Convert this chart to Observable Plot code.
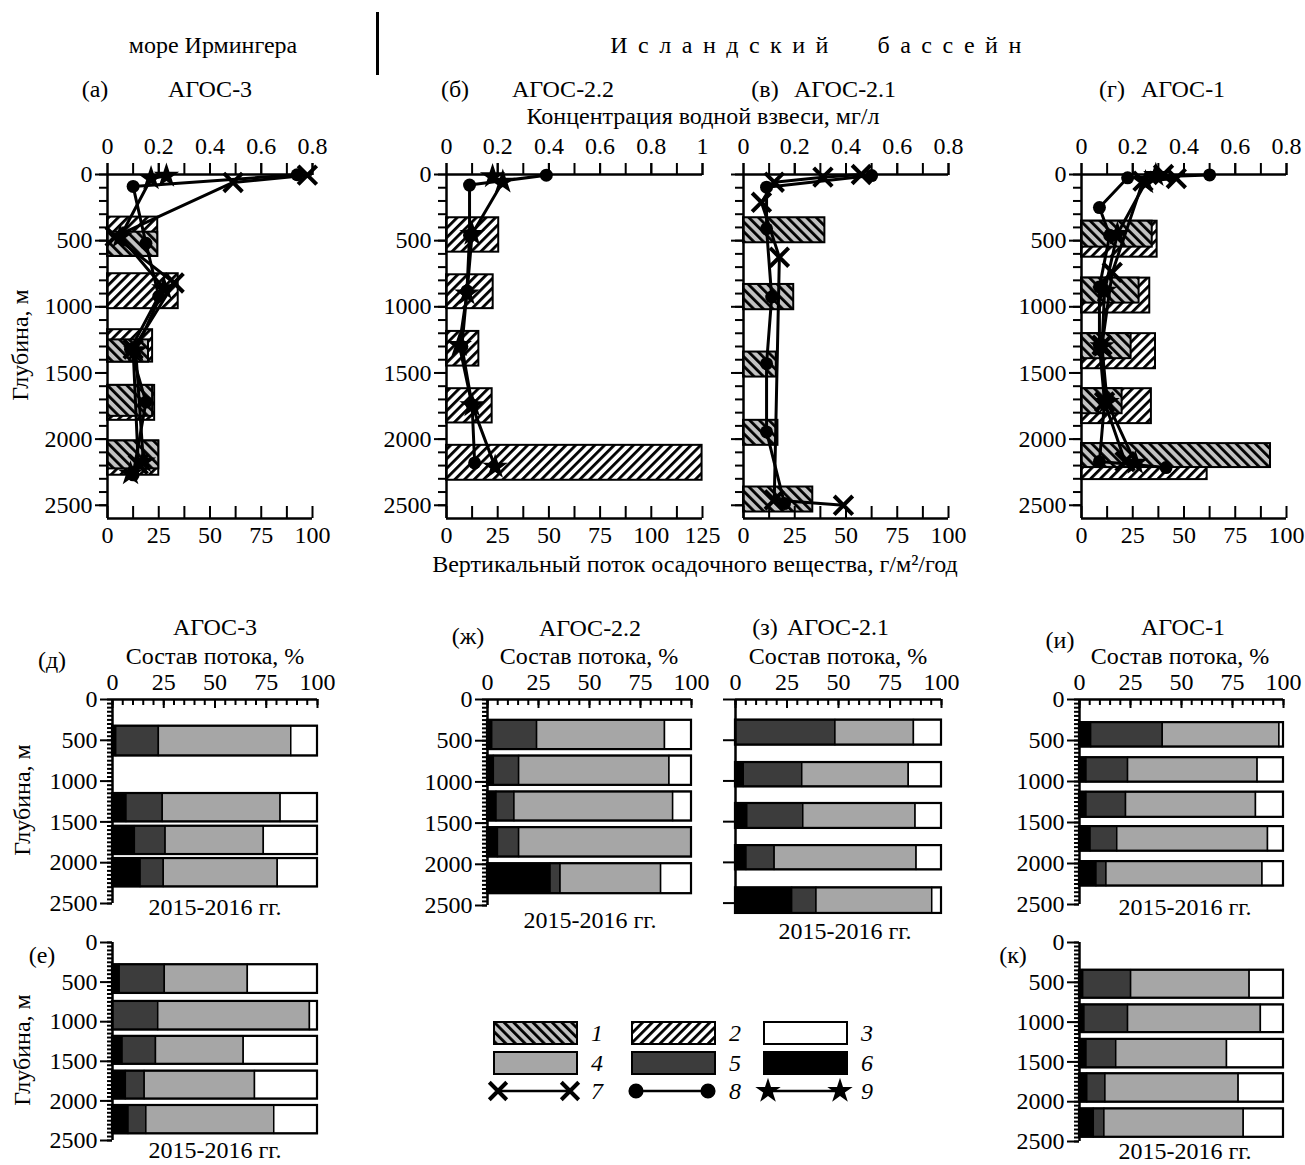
<!DOCTYPE html>
<html><head><meta charset="utf-8">
<script src="https://cdn.jsdelivr.net/npm/d3@7"></script>
<script src="https://cdn.jsdelivr.net/npm/@observablehq/plot@0.6"></script>
<style>
body{margin:0;background:#fff;}
#root{position:relative;width:1305px;height:1165px;overflow:hidden;font-family:"Liberation Serif","Times New Roman",serif;color:#000;background:#fff;}
.t{position:absolute;transform:translate(-50%,-50%);white-space:nowrap;font-size:24px;line-height:1;}
.r{transform:translate(-50%,-50%) rotate(-90deg);}
.p{position:absolute;}
</style></head><body>
<svg width="0" height="0" style="position:absolute">
<defs>
<pattern id="hatch1" patternUnits="userSpaceOnUse" width="6.8" height="6.8" patternTransform="rotate(-45)">
<rect width="6.8" height="6.8" fill="#c2c2c2"/><rect width="2.8" height="6.8" fill="#000"/>
</pattern>
<pattern id="hatch2" patternUnits="userSpaceOnUse" width="6.8" height="6.8" patternTransform="rotate(45)">
<rect width="6.8" height="6.8" fill="#fff"/><rect width="2.8" height="6.8" fill="#000"/>
</pattern>
</defs></svg>
<div id="root"></div>
<script>
// ===== DATA =====
// Top panels: vertical flux bars, g/m2/year (type 1 = pattern 1, type 2 = pattern 2)
const fluxA_1 = [{top:436,bottom:619,flux:24.5},{top:1250,bottom:1418,flux:20},{top:1594,bottom:1828,flux:22},{top:2014,bottom:2225,flux:25}];
const fluxA_2 = [{top:322,bottom:619,flux:24.5},{top:750,bottom:1014,flux:34.5},{top:1173,bottom:1418,flux:22},{top:1594,bottom:1858,flux:23},{top:2014,bottom:2273,flux:25}];
const fluxB_2 = [{top:327,bottom:587,flux:25.5},{top:758,bottom:1014,flux:22.8},{top:1186,bottom:1448,flux:15.8},{top:1619,bottom:1878,flux:22.3},{top:2047,bottom:2311,flux:124.8}];
const fluxV_1 = [{top:327,bottom:516,flux:39.7},{top:831,bottom:1022,flux:24.5},{top:1342,bottom:1531,flux:16},{top:1858,bottom:2047,flux:16.8},{top:2362,bottom:2551,flux:33.8}];
const fluxG_1 = [{top:353,bottom:549,flux:34.5},{top:783,bottom:972,flux:28.1},{top:1203,bottom:1392,flux:24.2},{top:1619,bottom:1808,flux:19.8},{top:2034,bottom:2215,flux:92.2}];
const fluxG_2 = [{top:353,bottom:625,flux:36.9},{top:783,bottom:1047,flux:33.3},{top:1203,bottom:1468,flux:36.1},{top:1619,bottom:1883,flux:34.1},{top:2034,bottom:2306,flux:61.3}];

// Suspended matter concentration, mg/l: [concentration, depth]  (7 = ×, 8 = ●, 9 = ★)
const concA_7 = [[0.78,5],[0.49,60],[0.03,470],[0.26,820],[0.10,1320],[0.12,2190]];
const concA_8 = [[0.74,2],[0.10,90],[0.15,520],[0.20,920],[0.09,1320],[0.15,1720],[0.10,2270]];
const concA_9 = [[0.23,10],[0.17,30],[0.05,470],[0.22,860],[0.11,1330],[0.14,2170],[0.09,2260]];
const concB_8 = [[0.39,5],[0.09,80],[0.09,460],[0.08,880],[0.06,1300],[0.10,1740],[0.11,2180]];
const concB_9 = [[0.18,15],[0.22,55],[0.10,450],[0.08,900],[0.05,1290],[0.10,1745],[0.19,2210]];
const concV_7 = [[0.46,0],[0.31,20],[0.12,58],[0.07,210],[0.14,625],[0.12,2460],[0.39,2500]];
const concV_8 = [[0.50,8],[0.09,96],[0.09,410],[0.11,926],[0.09,1430],[0.09,1946],[0.16,2487]];
const concG_7 = [[0.32,0],[0.37,30],[0.24,50],[0.12,740],[0.08,1290],[0.09,1720],[0.17,2170]];
const concG_8 = [[0.50,3],[0.18,25],[0.07,250],[0.11,460],[0.07,850],[0.07,1290],[0.09,1720],[0.07,2170],[0.33,2215]];
const concG_9 = [[0.29,5],[0.25,60],[0.14,450],[0.09,880],[0.08,1300],[0.10,1720],[0.21,2180]];

// Flux composition, %: parts in order of components
const components = ["6","5","4","3"];
const componentColors = ["#000000","#3c3c3c","#a6a6a6","#ffffff"];
const compD = [{top:327,bottom:692,parts:[1.8,20.8,64.6,12.8]},{top:1152,bottom:1500,parts:[6.8,17.7,57.5,18]},{top:1553,bottom:1900,parts:[10.9,15,47.9,26.2]},{top:1949,bottom:2297,parts:[13.7,11.3,55.6,19.4]}];
const compE = [{top:281,bottom:643,parts:[3.5,22,40.5,34]},{top:744,bottom:1105,parts:[0,22.3,74,3.7]},{top:1185,bottom:1538,parts:[4.9,16.3,42.8,36]},{top:1624,bottom:1977,parts:[6.5,9.2,53.8,30.5]},{top:2058,bottom:2416,parts:[7.8,8.7,62.4,21.1]}];
const compZh = [{top:252,bottom:608,parts:[2.3,22,62.7,13]},{top:686,bottom:1042,parts:[3.1,12.4,73.7,10.8]},{top:1122,bottom:1475,parts:[4.4,8.8,77.8,9]},{top:1555,bottom:1912,parts:[5.1,10.4,84.5,0]},{top:1993,bottom:2357,parts:[30.9,4.9,49.3,14.9]}];
const compZ = [{top:253,bottom:560,parts:[0,48.5,38.1,13.4]},{top:774,bottom:1073,parts:[4,28.4,51.7,15.9]},{top:1277,bottom:1583,parts:[5.7,27.2,54.5,12.6]},{top:1794,bottom:2092,parts:[5.3,13.7,68.9,12.1]},{top:2313,bottom:2627,parts:[27.5,11.8,56.2,4.5]}];
const compI = [{top:282,bottom:580,parts:[5.7,35.1,57.2,2]},{top:710,bottom:1008,parts:[3.4,20.4,63.5,12.7]},{top:1130,bottom:1437,parts:[3.4,19.4,63.7,13.5]},{top:1550,bottom:1850,parts:[5.4,13.1,73.9,7.6]},{top:1977,bottom:2275,parts:[8.3,4.9,76.5,10.3]}];
const compK = [{top:348,bottom:700,parts:[1.8,23.5,58.1,16.6]},{top:784,bottom:1132,parts:[2.4,21.4,65.1,11.1]},{top:1217,bottom:1575,parts:[3.4,14.6,54.3,27.7]},{top:1649,bottom:2006,parts:[3.8,8.9,65.3,22]},{top:2090,bottom:2447,parts:[7,5.2,68.3,19.5]}];

// Tick values
const fluxTicks100 = [0,25,50,75,100];
const fluxTicks125 = [0,25,50,75,100,125];
const concTicks08 = [0,0.2,0.4,0.6,0.8];
const concTicks1 = [0,0.2,0.4,0.6,0.8,1];
const depthTicks = [0,500,1000,1500,2000,2500];
const pctTicks = [0,25,50,75,100];

// ===== RENDER =====
const root = document.getElementById("root");
const STYLE = {fontFamily:'"Liberation Serif","Times New Roman",serif', fontSize:"24px", background:"transparent", overflow:"visible", color:"black"};
function place(node, left, top, w, h){
  const d=document.createElement("div"); d.className="p";
  d.style.left=left+"px"; d.style.top=top+"px"; d.style.width=w+"px"; d.style.height=h+"px";
  d.appendChild(node); root.appendChild(d);
}
function txt(s, x, y, extra){
  const d=document.createElement("div"); d.className="t"+(extra&&extra.rot?" r":"");
  d.textContent=s; d.style.left=x+"px"; d.style.top=y+"px";
  if(extra&&extra.css) Object.assign(d.style, extra.css);
  root.appendChild(d);
}
const range = (a,b,s)=>d3.range(0, Math.round((b-a)/s)+1).map(i=>+(a+i*s).toFixed(4));

function topPanel(p){
  const FT=174, FB=518, mt=50, mb=40, ml=80, mr=25;
  const fw=p.right-p.left, fh=FB-FT, W=ml+fw+mr, H=mt+fh+mb;
  const common={width:W,height:H,marginTop:mt,marginBottom:mb,marginLeft:ml,marginRight:mr,style:STYLE,
    y:{domain:[0,2600],reverse:true,axis:null}};
  const bars=Plot.plot({...common, x:{domain:[0,p.fluxMax],axis:null}, marks:[
    Plot.rect(p.type2||[], {x1:0,x2:"flux",y1:"top",y2:"bottom",fill:"url(#hatch2)",stroke:"black",strokeWidth:2}),
    Plot.rect(p.type1||[], {x1:0,x2:"flux",y1:"top",y2:"bottom",fill:"url(#hatch1)",stroke:"black",strokeWidth:2}),
    Plot.ruleX([0],{stroke:"black",strokeWidth:2.5}),
    Plot.ruleY([0,2600],{stroke:"black",strokeWidth:2.5}),
    Plot.tickX(range(0,p.fluxMax,12.5),{x:d=>d,insetTop:fh-12,stroke:"black",strokeWidth:2}),
    Plot.axisX(p.fluxTicks,{anchor:"bottom",tickSize:0,tickPadding:7,label:null,tickFormat:d=>String(d)}),
    Plot.axisY(range(0,2500,100),{anchor:"left",tickSize:8,tickFormat:()=>"",label:null,strokeWidth:2}),
    Plot.axisY(depthTicks,{anchor:"left",tickSize:12,tickPadding:3,label:null,strokeWidth:2,tickFormat:p.yLabels?(d=>String(d)):(()=>"")})
  ]});
  place(bars, p.left-ml, FT-mt, W, H);
  const marks=[];
  for(const s of p.series){
    marks.push(Plot.line(s.data,{x:d=>d[0],y:d=>d[1],stroke:"black",strokeWidth:3}));
  }
  for(const s of p.series){
    if(s.kind==="7") marks.push(Plot.dot(s.data,{x:d=>d[0],y:d=>d[1],symbol:"times",r:8.5,stroke:"black",strokeWidth:4}));
    if(s.kind==="8") marks.push(Plot.dot(s.data,{x:d=>d[0],y:d=>d[1],symbol:"circle",r:6.5,fill:"black",stroke:"none"}));
    if(s.kind==="9") marks.push(Plot.dot(s.data,{x:d=>d[0],y:d=>d[1],symbol:"star",r:8,fill:"black",stroke:"none"}));
  }
  marks.push(Plot.axisX(range(0,p.concMax,0.1),{anchor:"top",tickSize:12,tickFormat:()=>"",label:null,strokeWidth:2}));
  marks.push(Plot.axisX(p.concTicks,{anchor:"top",tickSize:12,tickPadding:9,label:null,strokeWidth:2,tickFormat:d=>String(d)}));
  const lines=Plot.plot({...common, x:{domain:[0,p.concMax],axis:null}, marks});
  place(lines, p.left-ml, FT-mt, W, H);
}

topPanel({left:107,right:312,fluxMax:100,fluxTicks:fluxTicks100,concMax:0.8,concTicks:concTicks08,yLabels:true,
  type1:fluxA_1,type2:fluxA_2,series:[{kind:"7",data:concA_7},{kind:"8",data:concA_8},{kind:"9",data:concA_9}]});
topPanel({left:446,right:702,fluxMax:125,fluxTicks:fluxTicks125,concMax:1,concTicks:concTicks1,yLabels:true,
  type2:fluxB_2,series:[{kind:"8",data:concB_8},{kind:"9",data:concB_9}]});
topPanel({left:743,right:948,fluxMax:100,fluxTicks:fluxTicks100,concMax:0.8,concTicks:concTicks08,yLabels:false,
  type1:fluxV_1,series:[{kind:"7",data:concV_7},{kind:"8",data:concV_8}]});
topPanel({left:1081,right:1286,fluxMax:100,fluxTicks:fluxTicks100,concMax:0.8,concTicks:concTicks08,yLabels:true,
  type1:fluxG_1,type2:fluxG_2,series:[{kind:"7",data:concG_7},{kind:"8",data:concG_8},{kind:"9",data:concG_9}]});

function compPanel(p){
  const mt=45, mb=20, ml=80, mr=25;
  const fw=p.right-p.left, fh=Math.round(p.depthMax*p.pxPerM), W=ml+fw+mr, H=mt+fh+mb;
  const segs=p.data.flatMap(r=>{let acc=0; return components.map((k,i)=>{const v=r.parts[i]; const s={type:k,x1:acc,x2:acc+v,y1:r.top,y2:r.bottom}; acc+=v; return s;}).filter(s=>s.x2>s.x1);});
  const marks=[
    Plot.rect(segs,{x1:"x1",x2:"x2",y1:"y1",y2:"y2",fill:"type",stroke:"black",strokeWidth:1.5}),
    Plot.rect(p.data,{x1:0,x2:100,y1:"top",y2:"bottom",fill:"none",stroke:"black",strokeWidth:2.2}),
    Plot.ruleX([0],{stroke:"black",strokeWidth:2.5})
  ];
  if(p.top){
    marks.push(Plot.ruleY([0],{stroke:"black",strokeWidth:2.5}));
    marks.push(Plot.tickX(range(0,100,5),{x:d=>d,insetBottom:fh-6,stroke:"black",strokeWidth:2}));
    marks.push(Plot.tickX(pctTicks,{x:d=>d,insetBottom:fh-9,stroke:"black",strokeWidth:2}));
    marks.push(Plot.axisX(pctTicks,{anchor:"top",tickSize:0,tickPadding:10,label:null,tickFormat:d=>String(d)}));
  }
  if(p.minor) marks.push(Plot.axisY(range(0,2500,50),{anchor:"left",tickSize:5,tickFormat:()=>"",label:null,strokeWidth:2}));
  marks.push(Plot.axisY(depthTicks,{anchor:"left",tickSize:12,tickPadding:3,label:null,strokeWidth:2,tickFormat:p.yLabels?(d=>String(d)):(()=>"")}));
  const chart=Plot.plot({width:W,height:H,marginTop:mt,marginBottom:mb,marginLeft:ml,marginRight:mr,style:STYLE,
    x:{domain:[0,100],axis:null}, y:{domain:[0,p.depthMax],reverse:true,axis:null},
    color:{domain:components,range:componentColors},marks});
  place(chart, p.left-ml, p.zeroY-mt, W, H);
}
compPanel({data:compD,left:112,right:317,zeroY:699,pxPerM:0.0816,depthMax:2500,top:true,yLabels:true,minor:true});
compPanel({data:compE,left:112,right:317,zeroY:942,pxPerM:0.0793,depthMax:2500,top:false,yLabels:true,minor:true});
compPanel({data:compZh,left:487,right:691,zeroY:699,pxPerM:0.0823,depthMax:2500,top:true,yLabels:true,minor:true});
compPanel({data:compZ,left:735,right:941,zeroY:699,pxPerM:0.0816,depthMax:2640,top:true,yLabels:false,minor:false});
compPanel({data:compI,left:1079,right:1283,zeroY:699,pxPerM:0.082,depthMax:2500,top:true,yLabels:true,minor:true});
compPanel({data:compK,left:1079,right:1283,zeroY:942,pxPerM:0.0797,depthMax:2500,top:false,yLabels:true,minor:true});

// ===== TEXT =====
txt("море Ирмингера",213,45);
const sep=document.createElement("div"); Object.assign(sep.style,{position:"absolute",left:"376px",top:"12px",width:"3px",height:"63px",background:"#000"}); root.appendChild(sep);
txt("Исландский бассейн",821,45,{css:{letterSpacing:"10.5px",wordSpacing:"22px"}});
txt("(а)",95,89); txt("АГОС-3",210,89);
txt("(б)",455,89); txt("АГОС-2.2",563,89);
txt("(в)",765,89); txt("АГОС-2.1",845,89);
txt("(г)",1112,89); txt("АГОС-1",1183,89);
txt("Концентрация водной взвеси, мг/л",703,116);
txt("Вертикальный поток осадочного вещества, г/м²/год",695,564);
txt("Глубина, м",20,345,{rot:true});
txt("АГОС-3",215,627); txt("(д)",52,660); txt("Состав потока, %",215,656); txt("2015-2016 гг.",215,907);
txt("Глубина, м",22,800,{rot:true});
txt("(е)",42,955); txt("Глубина, м",22,1050,{rot:true}); txt("2015-2016 гг.",215,1150);
txt("(ж)",468,636); txt("АГОС-2.2",590,628); txt("Состав потока, %",589,656); txt("2015-2016 гг.",590,920);
txt("(з)",765,627); txt("АГОС-2.1",838,627); txt("Состав потока, %",838,656); txt("2015-2016 гг.",845,931);
txt("(и)",1060,640); txt("АГОС-1",1183,627); txt("Состав потока, %",1180,656); txt("2015-2016 гг.",1185,907);
txt("(к)",1013,955); txt("2015-2016 гг.",1185,1151);

// ===== LEGEND =====
const lg=d3.create("svg").attr("width",420).attr("height",100).style("overflow","visible");
const sw=[
  {x:14,y:12,fill:"url(#hatch1)",lab:"1"},{x:152,y:12,fill:"url(#hatch2)",lab:"2"},{x:284,y:12,fill:"#fff",lab:"3"},
  {x:14,y:42,fill:"#a6a6a6",lab:"4"},{x:152,y:42,fill:"#3c3c3c",lab:"5"},{x:284,y:42,fill:"#000",lab:"6"}];
for(const s of sw){
  lg.append("rect").attr("x",s.x).attr("y",s.y).attr("width",83).attr("height",22).attr("fill",s.fill).attr("stroke","#000").attr("stroke-width",2);
  lg.append("text").attr("x",s.x+103).attr("y",s.y+19).text(s.lab).attr("font-style","italic").attr("font-size",24).attr("font-family","Liberation Serif").attr("text-anchor","middle");
}
const mk=[{x:14,sym:d3.symbolTimes,lab:"7"},{x:152,sym:d3.symbolCircle,lab:"8"},{x:284,sym:d3.symbolStar,lab:"9"}];
for(const m of mk){
  const y=81, x1=m.x+4, x2=m.x+76;
  lg.append("line").attr("x1",x1).attr("x2",x2).attr("y1",y).attr("y2",y).attr("stroke","#000").attr("stroke-width",2.5);
  for(const x of [x1,x2]){
    const path=lg.append("path").attr("d",d3.symbol(m.sym, m.sym===d3.symbolCircle?180:200)()).attr("transform",`translate(${x},${y})`);
    if(m.sym===d3.symbolTimes) path.attr("fill","none").attr("stroke","#000").attr("stroke-width",4);
    else path.attr("fill","#000");
  }
  lg.append("text").attr("x",m.x+103).attr("y",y+8).text(m.lab).attr("font-style","italic").attr("font-size",24).attr("font-family","Liberation Serif").attr("text-anchor","middle");
}
place(lg.node(),480,1010,420,100);
</script></body></html>
